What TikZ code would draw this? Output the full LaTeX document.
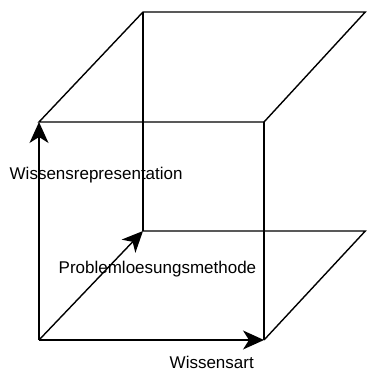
\documentclass[tikz,border=0pt]{standalone}
\usepackage{fontspec}
\setmainfont{Liberation Sans}
\usetikzlibrary{arrows.meta}
\tikzset{
  every picture/.style={line width=1.4pt, x=1pt, y=-1pt},
  edge/.style={draw=black, line join=miter},
  axis/.style={-{Stealth[length=21pt, width=19pt, inset=6pt]}, draw=black},
  axislabel/.style={font=\fontsize{17pt}{20pt}\selectfont, anchor=base west, inner sep=0pt},
}

\begin{document}
\begin{tikzpicture}
  \useasboundingbox (0,0) rectangle (366,371);
  % corners of the cube
  \coordinate (o) at (39,340);
  \coordinate (ftl) at (39,122);
  \coordinate (ftr) at (264,122);
  \coordinate (fbr) at (264,340);
  \coordinate (btl) at (143,12);
  \coordinate (btr) at (365.3,12);
  \coordinate (bbl) at (143,231);
  \coordinate (bbr) at (365.3,231);
  % edges
  \draw[edge] (ftl) -- (btl) -- (btr) -- (ftr) -- cycle;
  \draw[edge] (ftr) -- (fbr);
  \draw[edge] (btl) -- (bbl);
  \draw[edge] (bbl) -- (bbr) -- (fbr);
  % axes
  \draw[axis] (o) -- (ftl);
  \draw[axis] (o) -- (fbr);
  \draw[axis] (o) -- (bbl);
  \node[axislabel] (repr) at (9,179) {Wissensrepresentation};
  \node[axislabel] (meth) at (58,273) {Problemloesungsmethode};
  \node[axislabel] (art) at (169,368) {Wissensart};
\end{tikzpicture}
\end{document}
